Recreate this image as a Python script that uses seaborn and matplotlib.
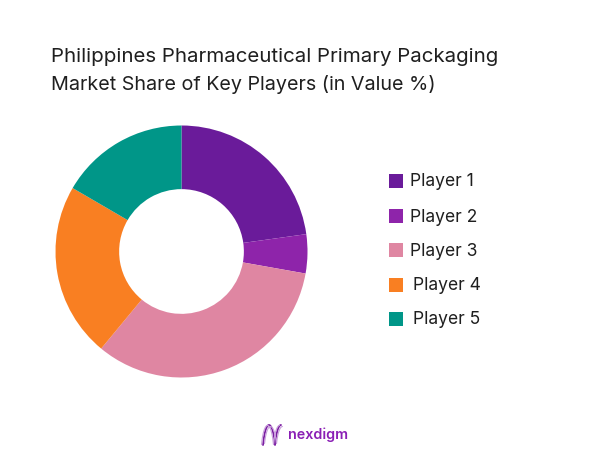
import numpy as np
import matplotlib
matplotlib.use("Agg")
import matplotlib.pyplot as plt
from matplotlib.patches import Rectangle
import seaborn as sns

players = ["Player 1", "Player 2", "Player 3", "Player 4", "Player 5"]
shares = [22.8, 5.0, 33.2, 22.4, 16.6]
colors = ["#6A1B9A", "#8E24AA", "#DF86A2", "#F97F22", "#009688"]
title_lines = ["Philippines Pharmaceutical Primary Packaging",
               "Market Share of Key Players (in Value %)"]
W, H = 602, 451

sns.set_theme(style="white")
plt.rcParams["font.family"] = ["Inter", "DejaVu Sans"]
fig = plt.figure(figsize=(W / 100, H / 100), dpi=100, facecolor="white")
R = 126
cx, cy = 181.5, 251.5
ax = fig.add_axes([(cx - R - 2) / W, 1 - (cy + R + 2) / H, (2 * R + 4) / W, (2 * R + 4) / H])
ax.pie(shares, colors=sns.color_palette(colors), startangle=90, counterclock=False,
       radius=1, wedgeprops=dict(width=0.505, linewidth=0))
ax.set_xlim(-(R + 2) / R, (R + 2) / R)
ax.set_ylim(-(R + 2) / R, (R + 2) / R)
ax.set_aspect("equal")
ax.axis("off")

fig.text(51 / W, 1 - 57 / H, title_lines[0], fontsize=14.75, color="#1f1f1f", va="center", ha="left")
fig.text(51 / W, 1 - 85 / H, title_lines[1], fontsize=14.2, color="#1f1f1f", va="center", ha="left")

ys = [181, 216, 250, 285, 319]
xs = [410, 410, 410, 413, 413]
for name, col, y, x in zip(players, colors, ys, xs):
    fig.add_artist(Rectangle((389 / W, 1 - (y + 7) / H), 14 / W, 14 / H,
                             transform=fig.transFigure, facecolor=col, edgecolor="none"))
    fig.text(x / W, 1 - (y + 1) / H, name, fontsize=12.6, color="#1f1f1f", va="center", ha="left")

# logo
fig.text(288 / W, 1 - 435 / H, "nexdigm", fontsize=10.3, fontweight="semibold", color="#8A1FB5",
         va="center", ha="left")
t = np.linspace(0, 1, 80)
for amp, off, col, lw in [(10, 0, "#7B1FA2", 1.3), (8.5, 1.5, "#C9A0DC", 0.8), (9.5, -1.5, "#C9A0DC", 0.8)]:
    lx = 263 + off + 18 * (t - 0.09 * np.sin(3 * np.pi * t))
    ly = 435 + amp * np.cos(3 * np.pi * t)
    fig.add_artist(plt.Line2D(lx / W, 1 - ly / H, color=col, lw=lw, transform=fig.transFigure))

fig.savefig("out.png", dpi=100, facecolor="white")
